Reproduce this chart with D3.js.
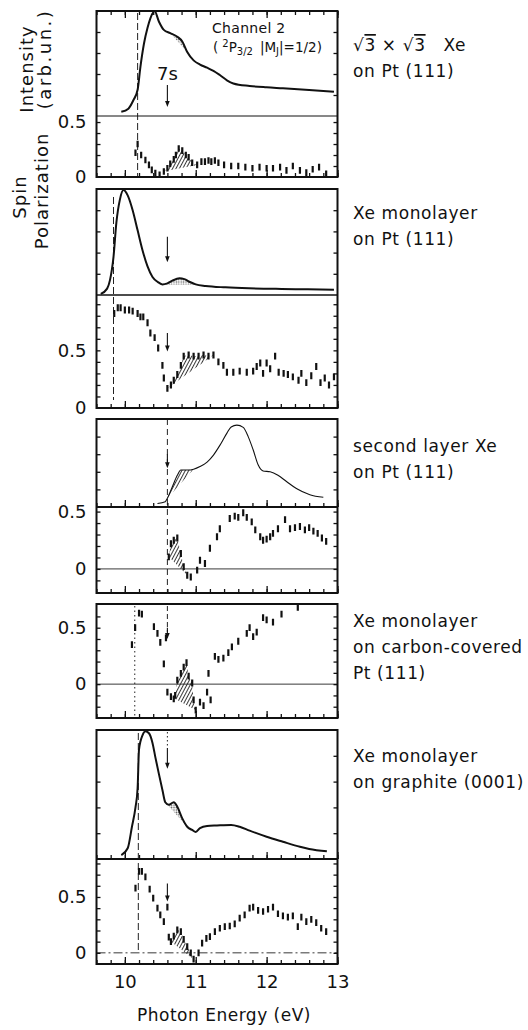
<!DOCTYPE html>
<html>
<head>
<meta charset="utf-8">
<script src="https://cdn.jsdelivr.net/npm/d3@7"></script>
<style>
  body { margin: 0; background: #fff; }
  svg { display: block; }
  text { font-family: "DejaVu Sans", sans-serif; fill: #111; }
</style>
</head>
<body>
<div id="chart"></div>
<script>
// ---- data (photon energy in eV) ----
var energyTicks = [10, 11, 12, 13];
var sevenS = 10.6;
var thresholds = [10.18, 9.84, 10.6, 10.14, 10.19];

// panel 1: sqrt3 x sqrt3 Xe on Pt(111)
var int1E = [9.95, 10.05, 10.12, 10.18, 10.22, 10.27, 10.32, 10.36, 10.42, 10.48, 10.55, 10.64, 10.74, 10.81, 10.88, 10.97, 11.06, 11.16, 11.25, 11.34, 11.44, 11.53, 11.76, 12.0, 12.23, 12.6, 12.95];
var int1V = [0.04, 0.07, 0.15, 0.25, 0.47, 0.69, 0.84, 0.93, 1.0, 0.9, 0.82, 0.79, 0.755, 0.71, 0.61, 0.53, 0.49, 0.46, 0.43, 0.39, 0.34, 0.31, 0.286, 0.273, 0.264, 0.248, 0.23];
var pol1E = [10.15, 10.18, 10.23, 10.29, 10.34, 10.38, 10.43, 10.49, 10.55, 10.6, 10.64, 10.69, 10.72, 10.76, 10.81, 10.86, 10.9, 10.95, 11.02, 11.08, 11.13, 11.18, 11.22, 11.27, 11.32, 11.4, 11.5, 11.6, 11.7, 11.8, 11.9, 12.0, 12.09, 12.19, 12.28, 12.37, 12.47, 12.56, 12.65, 12.74, 12.84];
var pol1V = [0.22, 0.30, 0.20, 0.155, 0.11, 0.065, 0.035, 0.02, 0.05, 0.08, 0.12, 0.16, 0.2, 0.26, 0.24, 0.2, 0.18, 0.13, 0.11, 0.14, 0.14, 0.15, 0.14, 0.15, 0.13, 0.11, 0.1, 0.1, 0.09, 0.08, 0.09, 0.08, 0.08, 0.09, 0.06, 0.1, 0.06, 0.04, 0.07, 0.09, 0.03];

// panel 2: Xe monolayer on Pt(111)
var int2E = [9.66, 9.75, 9.79, 9.84, 9.88, 9.93, 9.98, 10.04, 10.11, 10.18, 10.25, 10.32, 10.39, 10.46, 10.53, 10.6, 10.67, 10.77, 10.84, 10.91, 11.0, 11.14, 11.42, 11.75, 12.21, 12.58, 12.95];
var int2V = [0.01, 0.06, 0.14, 0.36, 0.68, 0.9, 0.99, 0.94, 0.8, 0.61, 0.42, 0.27, 0.17, 0.125, 0.1, 0.11, 0.135, 0.157, 0.15, 0.125, 0.1, 0.085, 0.072, 0.063, 0.057, 0.054, 0.05];
var pol2E = [9.85, 9.9, 9.94, 10.0, 10.06, 10.11, 10.18, 10.22, 10.26, 10.32, 10.36, 10.42, 10.47, 10.53, 10.55, 10.6, 10.65, 10.69, 10.74, 10.79, 10.83, 10.9, 10.97, 11.04, 11.11, 11.18, 11.25, 11.32, 11.39, 11.44, 11.53, 11.62, 11.72, 11.81, 11.86, 11.91, 11.95, 12.0, 12.05, 12.12, 12.17, 12.24, 12.3, 12.37, 12.45, 12.49, 12.56, 12.63, 12.7, 12.76, 12.82, 12.88, 12.95];
var pol2V = [0.82, 0.87, 0.87, 0.85, 0.85, 0.84, 0.82, 0.79, 0.79, 0.74, 0.65, 0.61, 0.52, 0.37, 0.26, 0.17, 0.2, 0.24, 0.29, 0.37, 0.45, 0.46, 0.45, 0.45, 0.46, 0.45, 0.46, 0.4, 0.37, 0.31, 0.31, 0.32, 0.31, 0.32, 0.36, 0.39, 0.3, 0.39, 0.34, 0.45, 0.31, 0.3, 0.29, 0.27, 0.24, 0.3, 0.22, 0.28, 0.36, 0.22, 0.26, 0.2, 0.27];

// panel 3: second layer Xe on Pt(111)
var int3E = [10.46, 10.57, 10.6, 10.67, 10.74, 10.79, 10.88, 10.97, 11.06, 11.16, 11.25, 11.34, 11.44, 11.5, 11.58, 11.67, 11.74, 11.81, 11.88, 11.95, 12.05, 12.16, 12.28, 12.42, 12.61, 12.8];
var int3V = [0.04, 0.06, 0.1, 0.23, 0.36, 0.42, 0.42, 0.43, 0.46, 0.51, 0.59, 0.7, 0.84, 0.91, 0.93, 0.905, 0.8, 0.65, 0.48, 0.41, 0.4, 0.36, 0.29, 0.21, 0.14, 0.11];
var pol3E = [10.62, 10.65, 10.69, 10.74, 10.79, 10.83, 10.88, 10.93, 11.02, 11.06, 11.13, 11.2, 11.3, 11.34, 11.48, 11.55, 11.6, 11.67, 11.72, 11.79, 11.84, 11.91, 11.95, 12.0, 12.05, 12.09, 12.16, 12.26, 12.33, 12.4, 12.47, 12.54, 12.6, 12.66, 12.72, 12.78, 12.84];
var pol3V = [0.105, 0.22, 0.25, 0.27, 0.135, 0.02, -0.055, -0.07, -0.01, 0.076, 0.047, 0.18, 0.28, 0.35, 0.44, 0.46, 0.45, 0.49, 0.45, 0.41, 0.34, 0.28, 0.25, 0.26, 0.28, 0.31, 0.35, 0.43, 0.35, 0.36, 0.37, 0.34, 0.36, 0.33, 0.31, 0.27, 0.24];

// panel 4: Xe monolayer on carbon-covered Pt(111)
var pol4E = [10.1, 10.145, 10.2, 10.24, 10.41, 10.46, 10.5, 10.55, 10.58, 10.6, 10.65, 10.69, 10.71, 10.74, 10.79, 10.83, 10.87, 10.9, 10.95, 10.97, 11.0, 11.06, 11.11, 11.16, 11.18, 11.21, 11.27, 11.32, 11.39, 11.46, 11.51, 11.6, 11.72, 11.76, 11.81, 11.86, 11.95, 12.0, 12.09, 12.21, 12.44];
var pol4V = [0.35, 0.5, 0.63, 0.62, 0.51, 0.45, 0.37, 0.18, 0.41, -0.07, -0.11, -0.13, -0.1, 0.035, 0.095, 0.15, 0.19, 0.07, 0.01, -0.14, -0.23, -0.16, -0.19, -0.07, 0.095, -0.14, 0.245, 0.22, 0.23, 0.28, 0.33, 0.38, 0.45, 0.5, 0.42, 0.46, 0.59, 0.57, 0.55, 0.62, 0.68];

// panel 5: Xe monolayer on graphite(0001)
var int5E = [9.95, 10.04, 10.1, 10.15, 10.18, 10.2, 10.25, 10.29, 10.34, 10.39, 10.43, 10.48, 10.53, 10.57, 10.62, 10.69, 10.74, 10.81, 10.88, 10.95, 11.0, 11.06, 11.16, 11.3, 11.5, 11.62, 11.76, 12.0, 12.23, 12.47, 12.6, 12.85];
var int5V = [0.03, 0.083, 0.25, 0.4, 0.55, 0.85, 0.96, 0.99, 0.975, 0.9, 0.79, 0.66, 0.535, 0.44, 0.42, 0.44, 0.405, 0.315, 0.25, 0.225, 0.21, 0.24, 0.256, 0.26, 0.264, 0.25, 0.22, 0.173, 0.134, 0.095, 0.078, 0.06];
var pol5E = [10.15, 10.2, 10.24, 10.29, 10.35, 10.4, 10.46, 10.5, 10.55, 10.6, 10.62, 10.65, 10.69, 10.74, 10.79, 10.83, 10.88, 10.93, 10.97, 11.04, 11.09, 11.15, 11.2, 11.27, 11.34, 11.41, 11.48, 11.55, 11.62, 11.69, 11.76, 11.81, 11.88, 11.95, 12.02, 12.09, 12.16, 12.23, 12.3, 12.37, 12.44, 12.49, 12.56, 12.63, 12.7, 12.77, 12.84];
var pol5V = [0.58, 0.73, 0.73, 0.68, 0.57, 0.49, 0.4, 0.34, 0.28, 0.41, 0.14, 0.1, 0.15, 0.205, 0.19, 0.12, 0.056, 0.0, -0.056, 0.0, 0.087, 0.13, 0.145, 0.19, 0.22, 0.235, 0.24, 0.26, 0.31, 0.34, 0.4, 0.41, 0.38, 0.37, 0.39, 0.41, 0.35, 0.33, 0.32, 0.33, 0.235, 0.32, 0.28, 0.3, 0.27, 0.22, 0.19];

var panelLabels = [
  ["√3 × √3   Xe", "on  Pt (111)"],
  ["Xe monolayer", "on  Pt (111)"],
  ["second  layer Xe", "on  Pt (111)"],
  ["Xe monolayer", "on carbon-covered", "Pt (111)"],
  ["Xe monolayer", "on graphite (0001)"]
];

// ---- layout ----
var W = 528, H = 1030;
var errP = 0.03;

var panels = [
  { top: 11, sep: 116, bottom: 177, intE: int1E, intV: int1V, intShade: [10.64, 10.88], stipple: true,
    polE: pol1E, polV: pol1V, polDom: [0, 0.555], polShade: [10.55, 11.02], sepW: 1, lineW: 2,
    thr: [{ e: thresholds[0], y0: 13, y1: 177, dash: "7,3" }], zero: null, topTicks: true, sepTicks: false,
    arrows: [{ on: "int", from: 0.295, to: 0.086 }], labelY: 51 },
  { top: 189, sep: 295, bottom: 408, intE: int2E, intV: int2V, intShade: [10.53, 11.0], stipple: true,
    polE: pol2E, polV: pol2V, polDom: [0, 0.98], polShade: [10.6, 11.25], sepW: 1.6, lineW: 2,
    thr: [{ e: thresholds[1], y0: 197, y1: 400, dash: "7,3" }], zero: null, sepTicks: false,
    arrows: [{ on: "int", from: 0.55, to: 0.31 }, { on: "pol", from: 0.65, to: 0.49 }], labelY: 219 },
  { top: 419, sep: 507, bottom: 593, intE: int3E, intV: int3V, intShade: [10.6, 10.97], stipple: false,
    polE: pol3E, polV: pol3V, polDom: [-0.21, 0.54], polShade: [10.6, 10.88], sepW: 2, lineW: 1.1,
    thr: [{ e: thresholds[2], y0: 419, y1: 593, dash: "6,4" }], zero: "solid", sepTicks: true,
    arrows: [{ on: "int", from: 0.6, to: 0.44 }], labelY: 452 },
  { top: 604, sep: null, bottom: 718, polE: pol4E, polV: pol4V, polDom: [-0.30, 0.71], polShade: [10.65, 11.0],
    thr: [{ e: thresholds[3], y0: 606, y1: 718, dash: "1.5,3" }, { e: sevenS, y0: 606, y1: 632, dash: "5,3" }],
    zero: "solid", sepTicks: false,
    arrows: [{ on: "pol", from: 0.5, to: 0.4 }], labelY: 627 },
  { top: 730, sep: 859, bottom: 964, intE: int5E, intV: int5V, intShade: [10.57, 10.88], stipple: true,
    polE: pol5E, polV: pol5V, polDom: [-0.1, 0.84], polShade: [10.65, 10.97], sepW: 2, lineW: 2,
    thr: [{ e: thresholds[4], y0: 733, y1: 953, dash: "7,3" }, { e: sevenS, y0: 732, y1: 748, dash: "1.5,2.5" }],
    zero: "dashdot", sepTicks: true,
    arrows: [{ on: "int", from: 0.86, to: 0.7 }, { on: "pol", from: 0.62, to: 0.46 }], labelY: 762 }
];

var svg = d3.select("#chart").append("svg").attr("width", W).attr("height", H);
var defs = svg.append("defs");

defs.append("pattern").attr("id", "hatch").attr("patternUnits", "userSpaceOnUse")
  .attr("width", 3).attr("height", 3).attr("patternTransform", "rotate(28)")
  .append("line").attr("x1", 0.5).attr("y1", 0).attr("x2", 0.5).attr("y2", 3)
  .attr("stroke", "#222").attr("stroke-width", 0.9);

var stip = defs.append("pattern").attr("id", "stipple").attr("patternUnits", "userSpaceOnUse")
  .attr("width", 2.4).attr("height", 2.4);
stip.append("circle").attr("cx", 1.2).attr("cy", 1.2).attr("r", 0.75).attr("fill", "#555");

var x = d3.scaleLinear().domain([9.6, 13.0]).range([96.5, 337.5]);
var x0 = x.range()[0], x1 = x.range()[1];
var minorE = d3.range(96, 131, 2).map(function (v) { return v / 10; });

function noDomain(g) { g.select(".domain").remove(); }

function chordArea(pts, yScale) {
  var a = pts[0], b = pts[pts.length - 1];
  var chord = function (e) { return a[1] + (b[1] - a[1]) * (e - a[0]) / (b[0] - a[0]); };
  return d3.area()
    .x(function (d) { return x(d[0]); })
    .y0(function (d) { return yScale(chord(d[0])); })
    .y1(function (d) { return yScale(d[1]); });
}

function inRange(pts, r) {
  return pts.filter(function (d) { return d[0] >= r[0] - 1e-9 && d[0] <= r[1] + 1e-9; });
}

function drawArrow(g, xp, ya, yb, dash) {
  var head = 6;
  g.append("line").attr("x1", xp).attr("x2", xp).attr("y1", ya).attr("y2", yb - head + 1)
    .attr("stroke", "#111").attr("stroke-width", 1.1).attr("stroke-dasharray", dash || null);
  g.append("path").attr("d", "M" + (xp - 2.3) + "," + (yb - head) + "L" + (xp + 2.3) + "," + (yb - head) + "L" + xp + "," + yb + "Z")
    .attr("fill", "#111");
}

panels.forEach(function (p, k) {
  var g = svg.append("g");
  var hasInt = !!p.intE;
  var polTop = hasInt ? p.sep : p.top;
  var yP = d3.scaleLinear().domain(p.polDom).range([p.bottom, polTop]);
  var yI = hasInt ? d3.scaleLinear().domain([0, 1]).range([p.sep, p.top]) : null;

  var cid = "clip" + k;
  defs.append("clipPath").attr("id", cid).append("rect")
    .attr("x", x0).attr("y", p.top).attr("width", x1 - x0).attr("height", p.bottom - p.top);
  var body = g.append("g").attr("clip-path", "url(#" + cid + ")");

  // zero line
  if (p.zero) {
    body.append("line").attr("x1", x0).attr("x2", x1).attr("y1", yP(0)).attr("y2", yP(0))
      .attr("stroke", "#222").attr("stroke-width", 0.9)
      .attr("stroke-dasharray", p.zero === "dashdot" ? "9,3,2,3" : null);
  }

  // threshold / resonance markers
  p.thr.forEach(function (t) {
    body.append("line").attr("x1", x(t.e)).attr("x2", x(t.e)).attr("y1", t.y0).attr("y2", t.y1)
      .attr("stroke", "#222").attr("stroke-width", 1).attr("stroke-dasharray", t.dash);
  });

  // intensity curve
  if (hasInt) {
    var ipts = d3.zip(p.intE, p.intV);
    body.append("path").datum(inRange(ipts, p.intShade))
      .attr("d", chordArea(inRange(ipts, p.intShade), yI).curve(d3.curveMonotoneX))
      .attr("fill", p.stipple ? "url(#stipple)" : "url(#hatch)");
    body.append("path").datum(ipts)
      .attr("d", d3.line().x(function (d) { return x(d[0]); }).y(function (d) { return yI(d[1]); }).curve(d3.curveMonotoneX))
      .attr("fill", "none").attr("stroke", "#111").attr("stroke-width", p.lineW);
  }

  // polarization points
  var ppts = d3.zip(p.polE, p.polV);
  var spts = inRange(ppts, p.polShade);
  body.append("path").datum(spts).attr("d", chordArea(spts, yP))
    .attr("fill", "url(#hatch)");
  body.selectAll("line.pt").data(ppts).join("line").attr("class", "pt")
    .attr("x1", function (d) { return x(d[0]); }).attr("x2", function (d) { return x(d[0]); })
    .attr("y1", function (d) { return yP(d[1] - errP); }).attr("y2", function (d) { return yP(d[1] + errP); })
    .attr("stroke", "#111").attr("stroke-width", 2.2);

  // arrows at the 7s resonance
  p.arrows.forEach(function (a) {
    var s = a.on === "int" ? yI : yP;
    drawArrow(body, x(sevenS), s(a.from), s(a.to), a.dash);
  });

  // frame
  g.append("rect").attr("x", x0).attr("y", p.top).attr("width", x1 - x0).attr("height", p.bottom - p.top)
    .attr("fill", "none").attr("stroke", "#111").attr("stroke-width", 2);
  if (hasInt) {
    g.append("line").attr("x1", x0).attr("x2", x1).attr("y1", p.sep).attr("y2", p.sep)
      .attr("stroke", "#111").attr("stroke-width", p.sepW);
  }

  // side ticks
  var d0 = p.polDom[0], d1 = p.polDom[1];
  var pTicks = d3.range(Math.ceil(d0 * 10 - 1e-6), Math.floor(d1 * 10 + 1e-6) + 1)
    .map(function (v) { return v / 10; })
    .filter(function (v) { return v > d0 + 0.02 && v < d1 - 0.02; });
  g.append("g").attr("transform", "translate(" + x0 + ",0)")
    .call(d3.axisRight(yP).tickValues(pTicks).tickSize(4).tickFormat("")).call(noDomain);
  g.append("g").attr("transform", "translate(" + x1 + ",0)")
    .call(d3.axisLeft(yP).tickValues(pTicks).tickSize(4).tickFormat("")).call(noDomain);
  if (hasInt) {
    var iTicks = [0.2, 0.4, 0.6, 0.8];
    g.append("g").attr("transform", "translate(" + x0 + ",0)")
      .call(d3.axisRight(yI).tickValues(iTicks).tickSize(4).tickFormat("")).call(noDomain);
    g.append("g").attr("transform", "translate(" + x1 + ",0)")
      .call(d3.axisLeft(yI).tickValues(iTicks).tickSize(4).tickFormat("")).call(noDomain);
  }

  // energy ticks
  var ey = [{ y: p.bottom, up: true }];
  if (p.sepTicks) ey.push({ y: p.sep, up: true });
  if (p.topTicks) ey.push({ y: p.top, up: false });
  ey.forEach(function (t) {
    var ax = t.up ? d3.axisTop : d3.axisBottom;
    g.append("g").attr("transform", "translate(0," + t.y + ")")
      .call(ax(x).tickValues(minorE).tickSize(4).tickFormat("")).call(noDomain);
    g.append("g").attr("transform", "translate(0," + t.y + ")")
      .call(ax(x).tickValues(energyTicks).tickSize(7).tickFormat("")).call(noDomain);
  });
  g.selectAll(".tick line").attr("stroke", "#111").attr("stroke-width", 1.3);

  // polarization tick labels
  var lab = g.append("g").attr("transform", "translate(" + (x0 - 1) + ",0)")
    .call(d3.axisLeft(yP).tickValues([0, 0.5]).tickSize(0).tickPadding(9)
      .tickFormat(function (d) { return d === 0 ? "0" : "0.5"; }))
    .call(noDomain);
  lab.attr("font-family", null).attr("font-size", null);
  lab.selectAll("text").style("font-size", "18px");

  // panel description
  var txt = svg.append("text").attr("x", 353).attr("y", p.labelY)
    .style("font-size", "17px").style("letter-spacing", "0.6px");
  panelLabels[k].forEach(function (line, j) {
    var ts = txt.append("tspan").attr("x", 353).attr("dy", j === 0 ? 0 : 26);
    if (line.indexOf("√") >= 0) {
      ts.append("tspan").text("√");
      ts.append("tspan").style("text-decoration", "overline").text("3");
      ts.append("tspan").text(" × √");
      ts.append("tspan").style("text-decoration", "overline").text("3");
      ts.append("tspan").attr("xml:space", "preserve").text("\u00a0\u00a0 Xe");
    } else {
      ts.text(line);
    }
  });

  // energy labels under the last panel
  if (k === panels.length - 1) {
    var xl = g.append("g").attr("transform", "translate(0," + p.bottom + ")")
      .call(d3.axisBottom(x).tickValues(energyTicks).tickSize(0).tickPadding(11).tickFormat(d3.format("d")))
      .call(noDomain);
    xl.attr("font-family", null).attr("font-size", null);
    xl.selectAll("text").style("font-size", "18px");
  }
});

// top panel annotations
svg.append("text").attr("x", 212).attr("y", 33).style("font-size", "14px").style("letter-spacing", "0.3px").text("Channel 2");
var ch = svg.append("text").attr("x", 213).attr("y", 52).style("font-size", "13.5px");
ch.append("tspan").text("(");
ch.append("tspan").attr("dx", 4).attr("dy", -5).style("font-size", "10px").text("2");
ch.append("tspan").attr("dy", 5).text("P");
ch.append("tspan").attr("dy", 3).style("font-size", "10px").text("3/2");
ch.append("tspan").attr("dy", -3).attr("dx", 7).text("|M");
ch.append("tspan").attr("dy", 3).style("font-size", "10px").text("J");
ch.append("tspan").attr("dy", -3).text("|=1/2)");

svg.append("text").attr("x", 157).attr("y", 80).style("font-size", "18px").text("7s");

// axis titles
function vLabel(txtS, cx, cy, spacing) {
  svg.append("text").attr("transform", "translate(" + cx + "," + cy + ") rotate(-90)")
    .attr("text-anchor", "middle").style("font-size", "18px").style("letter-spacing", spacing)
    .text(txtS);
}
vLabel("Intensity", 33, 69, "1px");
vLabel("(arb.un.)", 51, 59, "2.5px");
vLabel("Spin", 26, 197, "1px");
vLabel("Polarization", 48, 191, "1px");

svg.append("text").attr("x", 137).attr("y", 1021).style("font-size", "17px").style("letter-spacing", "0.5px")
  .text("Photon Energy (eV)");
</script>
</body>
</html>
